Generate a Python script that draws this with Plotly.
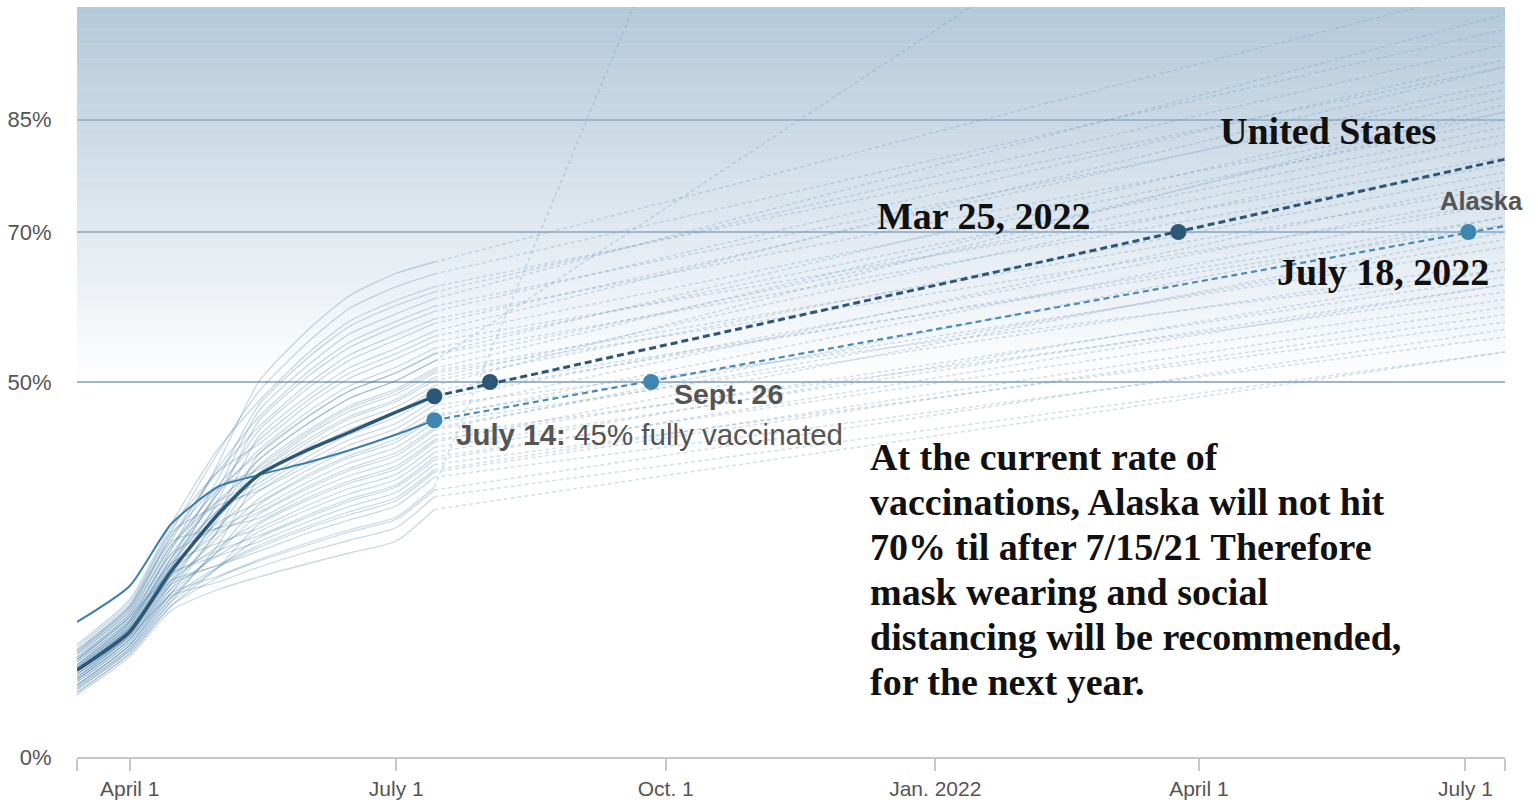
import plotly.graph_objects as go

# ---------------- data ----------------
dates = ['2021-03-14', '2021-04-01', '2021-04-15', '2021-05-01', '2021-05-15',
         '2021-06-01', '2021-06-15', '2021-07-01', '2021-07-14']
proj_end_date = '2022-07-14 12:00'

us_values = [11.6, 16.7, 24.7, 32.3, 37.6, 41.0, 43.3, 46.0, 48.1]
us_proj_end = 79.7
us_milestone_dates = ['2021-07-14', '2021-08-02', '2022-03-25']
us_milestone_values = [48.1, 50, 70]

ak_values = [18.0, 22.8, 31.0, 36.0, 37.6, 39.3, 40.9, 43.0, 44.9]
ak_proj_end = 70.8
ak_milestone_dates = ['2021-07-14', '2021-09-26', '2022-07-02']
ak_milestone_values = [44.9, 50, 70]

state_curves = [
    [13.0, 18.7, 27.6, 39.0, 50.0, 57.0, 61.5, 64.5, 66.0],
    [14.3, 20.2, 29.9, 40.5, 48.7, 55.4, 59.8, 62.7, 64.4],
    [15.0, 21.0, 31.0, 41.0, 47.4, 53.9, 58.1, 60.9, 62.7],
    [12.3, 18.0, 26.4, 37.0, 46.9, 53.3, 57.4, 60.2, 62.0],
    [11.7, 17.2, 25.3, 35.6, 46.1, 52.3, 56.4, 59.1, 61.1],
    [13.7, 19.5, 28.7, 38.5, 45.3, 51.4, 55.3, 58.1, 60.1],
    [11.0, 16.4, 24.1, 34.1, 44.8, 50.8, 54.6, 57.4, 59.4],
    [14.0, 19.9, 29.3, 38.0, 44.0, 49.8, 53.6, 56.3, 58.4],
    [12.0, 17.6, 25.8, 35.1, 43.5, 49.2, 52.9, 55.6, 57.8],
    [10.3, 15.7, 23.0, 32.1, 42.7, 48.2, 51.9, 54.5, 56.8],
    [13.0, 18.7, 27.6, 36.1, 42.2, 47.6, 51.2, 53.8, 56.1],
    [14.7, 20.6, 30.4, 38.0, 41.7, 47.0, 50.5, 53.1, 55.4],
    [11.3, 16.8, 24.7, 32.6, 39.6, 44.5, 47.8, 50.2, 52.8],
    [12.3, 18.0, 26.4, 35.1, 40.9, 46.1, 49.5, 52.0, 54.5],
    [9.6, 14.9, 21.8, 30.2, 40.4, 45.5, 48.8, 51.3, 53.8],
    [13.3, 19.1, 28.1, 35.6, 40.4, 45.4, 48.8, 51.2, 53.7],
    [11.7, 17.2, 25.3, 33.6, 39.6, 44.5, 47.8, 50.2, 52.8],
    [10.6, 16.1, 23.5, 31.6, 38.8, 43.6, 46.8, 49.1, 51.8],
    [12.7, 18.3, 27.0, 34.1, 38.6, 43.3, 46.5, 48.8, 51.5],
    [14.0, 19.9, 29.3, 36.0, 38.3, 43.0, 46.1, 48.4, 51.2],
    [10.0, 15.3, 22.4, 30.1, 37.8, 42.4, 45.4, 47.7, 50.6],
    [12.0, 17.6, 25.8, 32.9, 37.5, 42.0, 45.1, 47.4, 50.2],
    [9.0, 14.2, 20.7, 28.2, 37.0, 41.4, 44.4, 46.7, 49.5],
    [13.3, 19.1, 28.1, 34.1, 36.5, 40.8, 43.7, 46.0, 48.9],
    [12.3, 18.0, 26.4, 32.8, 36.0, 40.1, 43.0, 45.3, 48.2],
    [11.0, 16.4, 24.1, 30.6, 35.4, 39.5, 42.3, 44.5, 47.6],
    [14.3, 20.2, 29.9, 33.5, 35.5, 38.9, 41.6, 43.8, 46.9],
    [10.3, 15.7, 23.0, 29.2, 34.4, 38.3, 40.9, 43.1, 46.2],
    [11.7, 17.2, 25.3, 31.2, 33.9, 37.7, 40.2, 42.4, 45.6],
    [9.3, 14.5, 21.2, 27.5, 33.6, 37.4, 39.9, 42.0, 45.3],
    [12.7, 18.3, 27.0, 30.5, 33.1, 36.7, 39.2, 41.3, 44.6],
    [11.3, 16.8, 24.7, 29.8, 32.6, 36.1, 38.5, 40.6, 43.9],
    [9.6, 14.9, 21.8, 27.3, 32.3, 35.8, 38.2, 40.2, 43.6],
    [13.7, 19.5, 28.7, 30.5, 31.8, 35.2, 37.5, 39.5, 42.9],
    [10.6, 16.1, 23.5, 28.0, 31.3, 34.6, 36.8, 38.8, 42.3],
    [8.6, 13.8, 20.1, 25.2, 31.0, 34.3, 36.5, 38.4, 42.0],
    [12.0, 17.6, 25.8, 28.5, 30.5, 33.6, 35.8, 37.7, 41.3],
    [10.0, 15.3, 22.4, 26.8, 30.0, 33.0, 35.1, 37.0, 40.6],
    [11.0, 16.4, 24.1, 27.5, 29.5, 32.3, 34.4, 36.3, 40.0],
    [9.0, 14.2, 20.7, 25.2, 29.2, 32.0, 34.1, 36.0, 39.6],
    [13.0, 18.7, 24.5, 26.8, 28.7, 31.4, 33.4, 35.3, 39.0],
    [10.3, 15.7, 23.0, 25.6, 28.2, 30.8, 32.7, 34.6, 38.3],
    [9.3, 14.5, 21.2, 25.3, 27.9, 30.5, 32.3, 34.2, 38.0],
    [11.7, 17.2, 23.5, 25.5, 27.4, 29.9, 31.6, 33.5, 37.3],
    [9.6, 14.9, 21.8, 24.1, 26.3, 28.6, 30.3, 32.0, 36.0],
    [8.6, 13.8, 20.1, 23.9, 26.1, 28.3, 30.0, 31.7, 35.6],
    [10.6, 16.1, 21.5, 23.3, 25.3, 27.4, 28.9, 30.6, 34.7],
    [8.3, 13.4, 19.5, 22.3, 24.0, 25.8, 27.2, 28.8, 33.0],
]
state_proj_dates = [proj_end_date] * 12 + ['2022-01-13'] + [proj_end_date] * 31 + ['2021-09-20'] + [proj_end_date] * 3
state_proj_values = [103, 97, 92, 95, 99, 89, 93, 86, 90, 92, 85, 80, 100,
                     84, 88, 79, 83, 86, 76, 74, 82, 78, 87, 71, 72, 75, 65,
                     77, 68, 74, 66, 69, 72, 62, 64, 70, 63, 65, 61, 63, 58,
                     60, 59, 56, 100, 57, 54, 54]

x_tick_vals = ['2021-03-14', '2021-04-01', '2021-07-01', '2021-10-01', '2022-01-01',
               '2022-04-01', '2022-07-01', '2022-07-14 12:00']
x_tick_text = ['', 'April 1', 'July 1', 'Oct. 1', 'Jan. 2022', 'April 1', 'July 1', '']
y_tick_vals = [0, 50, 70, 85]
y_tick_text = ['0%', '50%', '70%', '85%']

# ---------------- styling ----------------
W, H = 1538, 802
ML, MR, MT, MB = 77, 33, 7, 45
PW, PH = W - ML - MR, H - MT - MB
SANS = 'Liberation Sans, Arial, sans-serif'
SERIF = 'Liberation Serif, Times New Roman, serif'
US_COLOR = '#2b5876'
AK_COLOR = '#3b80aa'


def px(x):
    return (x - ML) / PW


def py(y):
    return (H - MB - y) / PH


fig = go.Figure()

for vals in state_curves:
    fig.add_trace(go.Scatter(x=dates, y=vals, mode='lines',
                             line=dict(color='rgba(55,115,160,0.28)', width=1.3,
                                       shape='spline', smoothing=0.6),
                             hoverinfo='skip'))
for vals, d_end, v_end in zip(state_curves, state_proj_dates, state_proj_values):
    fig.add_trace(go.Scatter(x=[dates[-1], d_end], y=[vals[-1], v_end], mode='lines',
                             line=dict(color='rgba(115,158,192,0.32)', width=1.5, dash='4px,3px'),
                             hoverinfo='skip'))

# Alaska
fig.add_trace(go.Scatter(x=dates, y=ak_values, mode='lines',
                         line=dict(color=AK_COLOR, width=2, shape='spline', smoothing=0.6)))
fig.add_trace(go.Scatter(x=[dates[-1], proj_end_date], y=[ak_values[-1], ak_proj_end], mode='lines',
                         line=dict(color='#4a8cb6', width=2.2, dash='6px,4px')))
# United States
fig.add_trace(go.Scatter(x=dates, y=us_values, mode='lines',
                         line=dict(color=US_COLOR, width=3.5, shape='spline', smoothing=0.6)))
fig.add_trace(go.Scatter(x=[dates[-1], proj_end_date], y=[us_values[-1], us_proj_end], mode='lines',
                         line=dict(color=US_COLOR, width=3, dash='7px,4px')))
fig.add_trace(go.Scatter(x=ak_milestone_dates, y=ak_milestone_values, mode='markers',
                         marker=dict(color='#3d86b1', size=16), cliponaxis=False))
fig.add_trace(go.Scatter(x=us_milestone_dates, y=us_milestone_values, mode='markers',
                         marker=dict(color=US_COLOR, size=16), cliponaxis=False))

# background gradient above 50%
top_rgb = (179, 200, 218)
shapes = []
n = 50
for i in range(n):
    t = (i + 0.5) / n
    c = tuple(round(255 + (tc - 255) * t) for tc in top_rgb)
    shapes.append(dict(type='rect', xref='paper', yref='y', x0=0, x1=1,
                       y0=50 + i * 50 / n, y1=50 + (i + 1) * 50 / n + 0.05,
                       fillcolor='rgb(%d,%d,%d)' % c, line=dict(width=0), layer='below'))

annotations = []


def serif(text, x, y):
    annotations.append(dict(text='<b>%s</b>' % text, xref='paper', yref='paper',
                            x=px(x), y=py(y), xanchor='left', yanchor='middle',
                            showarrow=False, font=dict(family=SERIF, size=38, color='#111')))


serif('United States', 1218, 131)
serif('Mar 25, 2022', 875, 216)
serif('July 18, 2022', 1275, 272)
para = ['At the current rate of', 'vaccinations, Alaska will not hit',
        '70% til after 7/15/21 Therefore', 'mask wearing and social',
        'distancing will be recommended,', 'for the next year.']
for i, line in enumerate(para):
    serif(line, 868, 457 + 45 * i)

annotations.append(dict(text='<b>Sept. 26</b>', xref='paper', yref='paper', x=px(672), y=py(394),
                        xanchor='left', yanchor='middle', showarrow=False,
                        font=dict(family=SANS, size=28.5, color='#555')))
annotations.append(dict(text='<b>July 14:</b> 45% fully vaccinated', xref='paper', yref='paper',
                        x=px(454), y=py(434), xanchor='left', yanchor='middle', showarrow=False,
                        font=dict(family=SANS, size=29.5, color='#555')))
annotations.append(dict(text='<b>Alaska</b>', xref='paper', yref='paper', x=px(1481), y=py(201),
                        xanchor='center', yanchor='middle', showarrow=False,
                        font=dict(family=SANS, size=25.5, color='#555')))

fig.update_layout(
    width=W, height=H, margin=dict(l=ML, r=MR, t=MT, b=MB, pad=0),
    paper_bgcolor='white', plot_bgcolor='white', showlegend=False,
    shapes=shapes, annotations=annotations,
    xaxis=dict(type='date', range=['2021-03-14', proj_end_date], automargin=False,
               tickvals=x_tick_vals, ticktext=x_tick_text,
               showline=True, linecolor='#c8c8c8', linewidth=2,
               ticks='outside', ticklen=12, tickwidth=1.5, tickcolor='#c8c8c8',
               showgrid=False, zeroline=False,
               tickfont=dict(family=SANS, size=21, color='#555')),
    yaxis=dict(range=[0, 100], tickvals=y_tick_vals, ticktext=y_tick_text, automargin=False,
               showgrid=True, gridcolor='#9db8cc', gridwidth=1.5, zeroline=False,
               showline=False, ticks='outside', ticklen=20, tickcolor='rgba(0,0,0,0)',
               tickfont=dict(family=SANS, size=22, color='#555')),
)

fig.write_html("out.html", config={'displayModeBar': False},
               post_script="document.body.style.margin='0';document.body.style.overflow='hidden';")
